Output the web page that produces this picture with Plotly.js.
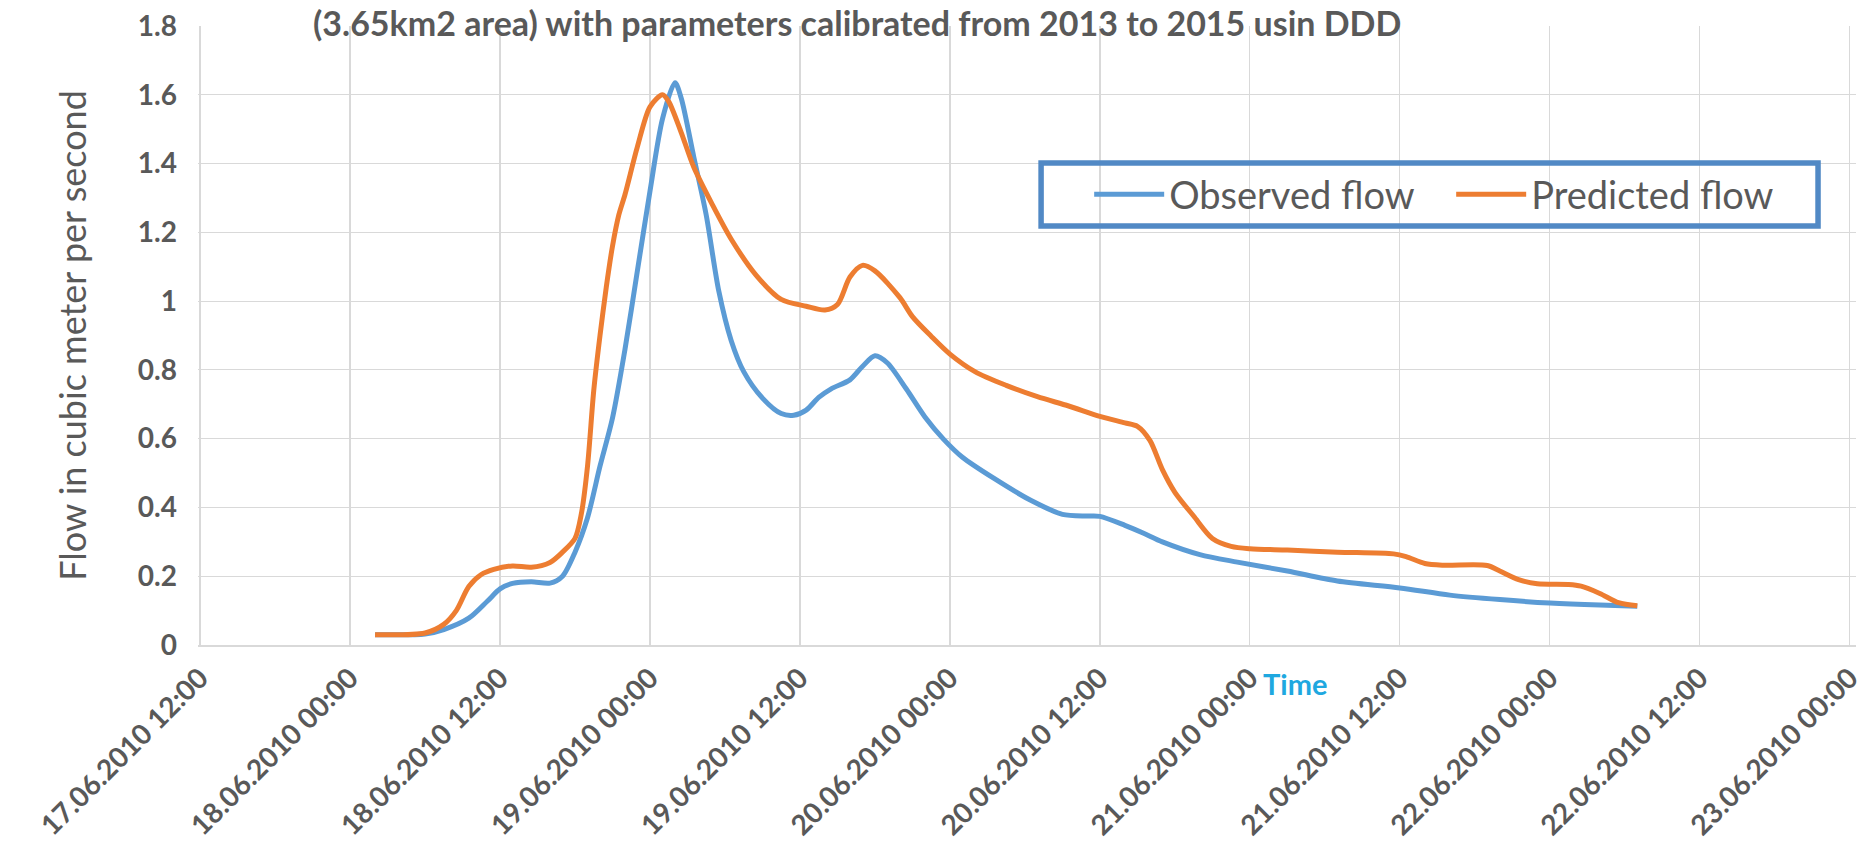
<!DOCTYPE html>
<html>
<head>
<meta charset="utf-8">
<script src="https://cdn.plot.ly/plotly-3.0.1.min.js"></script>
<style>
  html, body { margin: 0; padding: 0; background: #ffffff; }
  #chart { width: 1863px; height: 849px; }
</style>
</head>
<body>
<div id="chart"></div>
<script>
// Observed discharge (m3/s)
const observedTime = [
  '2010-06-18 02:00','2010-06-18 06:00','2010-06-18 07:30','2010-06-18 09:30','2010-06-18 11:00',
  '2010-06-18 12:00','2010-06-18 13:00','2010-06-18 14:30','2010-06-18 16:00','2010-06-18 17:00',
  '2010-06-18 18:00','2010-06-18 19:00','2010-06-18 20:00','2010-06-18 21:00','2010-06-18 22:00',
  '2010-06-18 23:00','2010-06-19 00:00','2010-06-19 01:00','2010-06-19 02:00','2010-06-19 02:30',
  '2010-06-19 03:30','2010-06-19 04:30','2010-06-19 05:30','2010-06-19 06:30','2010-06-19 07:30',
  '2010-06-19 09:00','2010-06-19 10:30','2010-06-19 11:30','2010-06-19 12:30','2010-06-19 13:30',
  '2010-06-19 14:30','2010-06-19 16:00','2010-06-19 17:00','2010-06-19 18:00','2010-06-19 19:00',
  '2010-06-19 20:30','2010-06-19 22:00','2010-06-19 23:30','2010-06-20 01:00','2010-06-20 03:30',
  '2010-06-20 06:30','2010-06-20 09:00','2010-06-20 11:00','2010-06-20 12:00','2010-06-20 14:00',
  '2010-06-20 15:30','2010-06-20 17:00','2010-06-20 20:00','2010-06-20 23:00','2010-06-21 03:00',
  '2010-06-21 07:00','2010-06-21 12:00','2010-06-21 16:00','2010-06-21 20:00','2010-06-22 00:00',
  '2010-06-22 04:00','2010-06-22 07:00'
];
const observedFlow = [
  0.030,0.032,0.045,0.078,0.128,
  0.163,0.179,0.184,0.180,0.200,
  0.270,0.370,0.520,0.660,0.860,
  1.090,1.320,1.530,1.635,1.590,
  1.420,1.250,1.030,0.885,0.795,
  0.718,0.673,0.668,0.683,0.720,
  0.745,0.771,0.810,0.841,0.820,
  0.745,0.663,0.598,0.546,0.485,
  0.420,0.380,0.375,0.374,0.348,
  0.325,0.300,0.263,0.241,0.215,
  0.186,0.166,0.145,0.132,0.122,
  0.116,0.113
];

// Simulated discharge (m3/s)
const predictedTime = [
  '2010-06-18 02:00','2010-06-18 06:00','2010-06-18 07:30','2010-06-18 08:30','2010-06-18 09:30',
  '2010-06-18 10:30','2010-06-18 11:30','2010-06-18 13:00','2010-06-18 14:30','2010-06-18 16:00',
  '2010-06-18 17:00','2010-06-18 18:00','2010-06-18 18:30','2010-06-18 19:00','2010-06-18 19:30',
  '2010-06-18 20:00','2010-06-18 20:30','2010-06-18 21:00','2010-06-18 21:30','2010-06-18 22:00',
  '2010-06-18 23:00','2010-06-19 00:00','2010-06-19 01:00','2010-06-19 01:30','2010-06-19 02:30',
  '2010-06-19 03:30','2010-06-19 05:00','2010-06-19 06:30','2010-06-19 08:30','2010-06-19 10:30',
  '2010-06-19 12:30','2010-06-19 14:00','2010-06-19 15:00','2010-06-19 16:00','2010-06-19 17:00',
  '2010-06-19 18:00','2010-06-19 20:00','2010-06-19 21:00','2010-06-19 22:30','2010-06-20 00:00',
  '2010-06-20 02:00','2010-06-20 04:30','2010-06-20 07:00','2010-06-20 09:30','2010-06-20 12:00',
  '2010-06-20 14:00','2010-06-20 15:00','2010-06-20 16:00','2010-06-20 17:00','2010-06-20 18:00',
  '2010-06-20 19:30','2010-06-20 21:00','2010-06-20 22:30','2010-06-21 00:00','2010-06-21 03:00',
  '2010-06-21 07:00','2010-06-21 11:30','2010-06-21 12:30','2010-06-21 14:00','2010-06-21 15:30',
  '2010-06-21 19:00','2010-06-21 20:00','2010-06-21 21:30','2010-06-21 23:00','2010-06-22 01:30',
  '2010-06-22 02:30','2010-06-22 04:00','2010-06-22 05:30','2010-06-22 07:00'
];
const predictedFlow = [
  0.030,0.035,0.060,0.100,0.170,
  0.205,0.220,0.230,0.226,0.240,
  0.270,0.310,0.380,0.520,0.740,
  0.900,1.040,1.160,1.250,1.310,
  1.450,1.565,1.600,1.580,1.490,
  1.390,1.280,1.180,1.075,1.005,
  0.985,0.974,0.990,1.070,1.104,
  1.088,1.010,0.955,0.898,0.846,
  0.795,0.755,0.722,0.695,0.665,
  0.646,0.636,0.595,0.510,0.444,
  0.375,0.310,0.287,0.280,0.276,
  0.270,0.265,0.257,0.237,0.232,
  0.231,0.215,0.190,0.178,0.176,
  0.171,0.150,0.123,0.114
];

// Axis ticks
const xTickVals = [
  '2010-06-17 12:00','2010-06-18 00:00','2010-06-18 12:00','2010-06-19 00:00',
  '2010-06-19 12:00','2010-06-20 00:00','2010-06-20 12:00','2010-06-21 00:00',
  '2010-06-21 12:00','2010-06-22 00:00','2010-06-22 12:00','2010-06-23 00:00'
];
const xTickText = [
  '17.06.2010 12:00','18.06.2010 00:00','18.06.2010 12:00','19.06.2010 00:00',
  '19.06.2010 12:00','20.06.2010 00:00','20.06.2010 12:00','21.06.2010 00:00',
  '21.06.2010 12:00','22.06.2010 00:00','22.06.2010 12:00','23.06.2010 00:00'
];
const yTickVals = [0, 0.2, 0.4, 0.6, 0.8, 1, 1.2, 1.4, 1.6, 1.8];
const yTickText = ['0', '0.2', '0.4', '0.6', '0.8', '1', '1.2', '1.4', '1.6', '1.8'];

const seriesNames = ['Observed flow', 'Predicted flow'];
const titleText = '(3.65km2 area) with parameters calibrated from 2013 to 2015 usin DDD';
const yTitleText = 'Flow in cubic meter per second';
const xTitleText = 'Time';

const grey = '#595959';
const gridGrey = '#D9D9D9';

const traces = [
  {
    x: observedTime, y: observedFlow, name: seriesNames[0],
    type: 'scatter', mode: 'lines',
    line: { color: '#5B9BD5', width: 5, shape: 'spline', smoothing: 0.8 }
  },
  {
    x: predictedTime, y: predictedFlow, name: seriesNames[1],
    type: 'scatter', mode: 'lines',
    line: { color: '#ED7D31', width: 5, shape: 'spline', smoothing: 0.8 }
  }
];

const layout = {
  width: 1863, height: 849,
  margin: { l: 198, r: 7, t: 26, b: 204, pad: 0 },
  paper_bgcolor: '#ffffff', plot_bgcolor: '#ffffff',
  font: { family: 'Lato, "Open Sans", sans-serif', color: grey },
  showlegend: true,
  legend: {
    orientation: 'h',
    x: 0.5375, xanchor: 'left',
    y: 0.7278, yanchor: 'middle',
    bgcolor: 'rgba(0,0,0,0)', borderwidth: 0,
    itemwidth: 70,
    entrywidth: 277, entrywidthmode: 'pixels',
    font: { family: 'Lato, sans-serif', size: 38, color: grey }
  },
  xaxis: {
    type: 'date',
    // a little slack on both ends keeps the outer gridlines and labels
    range: ['2010-06-17 11:50', '2010-06-23 00:30'],
    tickmode: 'array', tickvals: xTickVals, ticktext: xTickText,
    tickangle: -45,
    tickfont: { family: 'Lato, sans-serif', size: 28, color: grey, weight: 'bold' },
    ticklabelstandoff: 4, ticklabelshift: 0,
    ticklabeloverflow: 'allow',
    showgrid: true, gridcolor: gridGrey, gridwidth: 1.2,
    showline: true, linecolor: gridGrey, linewidth: 1.5,
    ticks: '', zeroline: false, automargin: false, fixedrange: true
  },
  yaxis: {
    range: [0, 1.8],
    tickmode: 'array', tickvals: yTickVals, ticktext: yTickText,
    tickfont: { family: 'Lato, sans-serif', size: 28, color: grey, weight: 'bold' },
    ticklabelstandoff: 20,
    showgrid: true, gridcolor: gridGrey, gridwidth: 1.2,
    showline: false, zeroline: false, ticks: '', automargin: false, fixedrange: true,
    title: {
      text: yTitleText,
      font: { family: 'Lato, sans-serif', size: 36, color: grey },
      standoff: 40
    }
  },
  shapes: [
    {
      type: 'rect', xref: 'paper', yref: 'paper', layer: 'above',
      x0: 0.5085, x1: 0.9771, y0: 0.6769, y1: 0.7787,
      line: { color: '#5189C5', width: 5.5 }, fillcolor: 'rgba(0,0,0,0)'
    }
  ],
  annotations: [
    {
      text: titleText, xref: 'paper', yref: 'paper',
      x: 0.0682, xanchor: 'left', y: 1.042, yanchor: 'top',
      showarrow: false,
      font: { family: 'Lato, sans-serif', size: 34, color: grey, weight: 'bold' }
    },
    {
      text: xTitleText, xref: 'paper', yref: 'paper',
      x: 0.6411, xanchor: 'left', y: -0.0630, yanchor: 'middle',
      showarrow: false,
      font: { family: 'Lato, sans-serif', size: 29, color: '#1FA8E0', weight: 'bold' }
    }
  ]
};

Plotly.newPlot('chart', traces, layout, { displayModeBar: false, staticPlot: true });
</script>
</body>
</html>
